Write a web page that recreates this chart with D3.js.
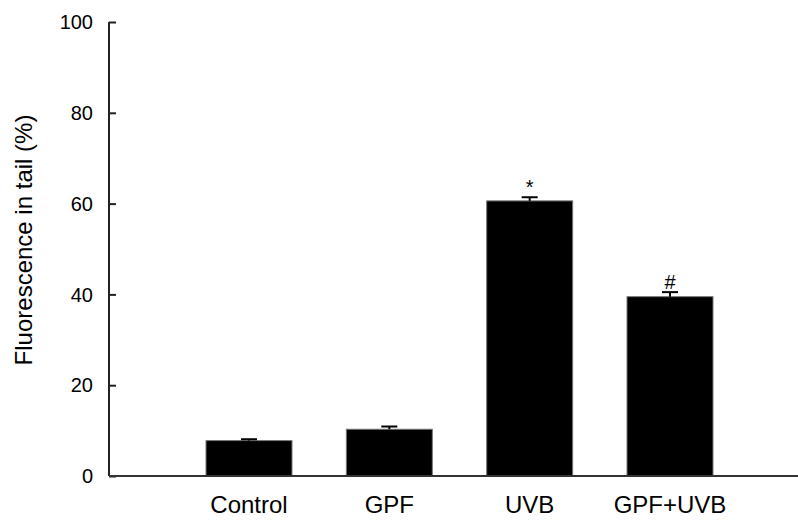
<!DOCTYPE html>
<html>
<head>
<meta charset="utf-8">
<script src="https://cdn.jsdelivr.net/npm/d3@7"></script>
<style>
  body { margin: 0; background: #fff; }
  text { font-family: Arial, "Liberation Sans", sans-serif; fill: #000; }
</style>
</head>
<body>
<svg id="chart" width="798" height="520"></svg>
<script>
const groups = ["Control", "GPF", "UVB", "GPF+UVB"];
const means = [7.8, 10.3, 60.6, 39.5];
const errors = [0.3, 0.6, 0.8, 1.0];
const marks = ["", "", "*", "#"];
const yTicks = [0, 20, 40, 60, 80, 100];

const svg = d3.select("#chart");

// plot area
const plotLeft = 109, plotTop = 22, plotBottom = 476, plotRight = 798;
const barWidth = 86;

const x = d3.scalePoint().domain(groups).range([249, 670]);
const y = d3.scaleLinear().domain([0, 100]).range([plotBottom, plotTop]);

// y axis, ticks pointing inward
const yAxis = svg.append("g")
  .attr("transform", `translate(${plotLeft},0)`)
  .call(d3.axisRight(y).tickValues(yTicks).tickSize(7).tickFormat(""));
yAxis.select(".domain").attr("stroke", "#222").attr("stroke-width", 2).attr("d", `M0,${plotTop}V${plotBottom}`);
yAxis.selectAll(".tick line").attr("stroke", "#222").attr("stroke-width", 2);

svg.append("g").selectAll("text")
  .data(yTicks)
  .join("text")
  .attr("x", plotLeft - 16)
  .attr("y", d => y(d))
  .attr("dy", "0.36em")
  .attr("text-anchor", "end")
  .attr("font-size", 20)
  .text(d => d);

// bars
svg.append("g").selectAll("rect")
  .data(means)
  .join("rect")
  .attr("x", (d, i) => x(groups[i]) - barWidth / 2)
  .attr("y", d => y(d))
  .attr("width", barWidth)
  .attr("height", d => plotBottom - y(d))
  .attr("fill", "#000")
  .attr("stroke", "#777")
  .attr("stroke-width", 1);

// error bars (upper only)
const err = svg.append("g").attr("stroke", "#000").attr("stroke-width", 2);
means.forEach((m, i) => {
  const cx = x(groups[i]);
  err.append("line").attr("x1", cx).attr("x2", cx).attr("y1", y(m)).attr("y2", y(m + errors[i]));
  err.append("line").attr("x1", cx - 8).attr("x2", cx + 8).attr("y1", y(m + errors[i])).attr("y2", y(m + errors[i]));
});

// significance marks
svg.append("g").selectAll("text")
  .data(means)
  .join("text")
  .attr("x", (d, i) => x(groups[i]))
  .attr("y", (d, i) => y(d + errors[i]) - 3)
  .attr("text-anchor", "middle")
  .attr("font-size", 20)
  .text((d, i) => marks[i]);

// x axis line
svg.append("line")
  .attr("x1", plotLeft).attr("x2", plotRight)
  .attr("y1", plotBottom).attr("y2", plotBottom)
  .attr("stroke", "#333").attr("stroke-width", 2);

svg.append("g").selectAll("text")
  .data(groups)
  .join("text")
  .attr("x", d => x(d))
  .attr("y", 513)
  .attr("text-anchor", "middle")
  .attr("font-size", 24)
  .text(d => d);

// y axis title
svg.append("text")
  .attr("transform", "translate(32,240) rotate(-90)")
  .attr("text-anchor", "middle")
  .attr("font-size", 24)
  .text("Fluorescence in tail (%)");
</script>
</body>
</html>
